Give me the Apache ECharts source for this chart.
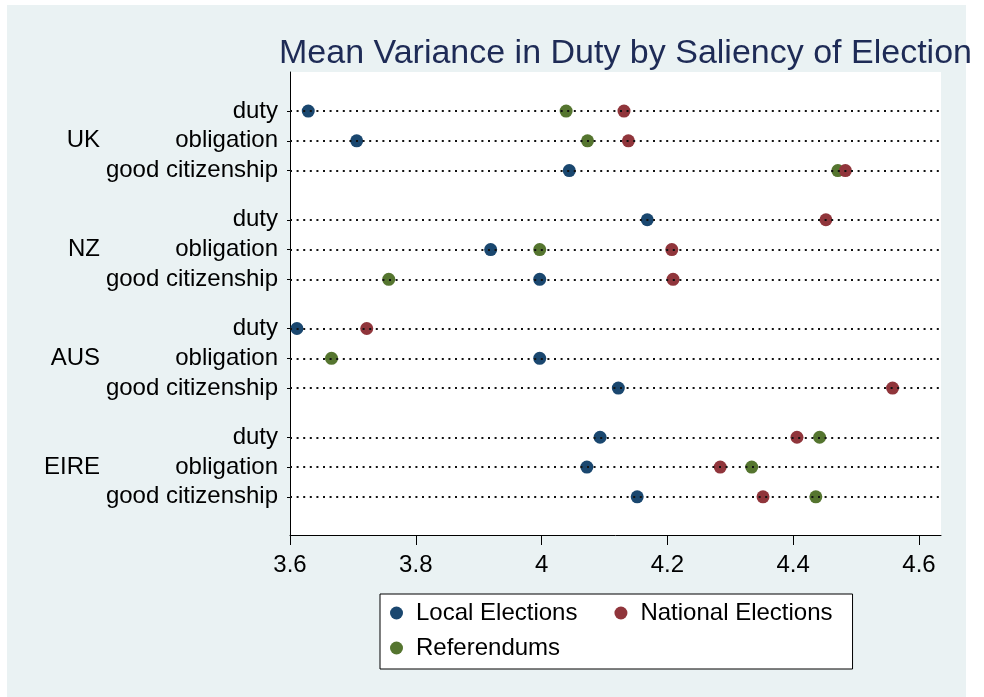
<!DOCTYPE html>
<html>
<head>
<meta charset="utf-8">
<script src="https://cdn.jsdelivr.net/npm/echarts@6/dist/echarts.min.js"></script>
<style>
  html, body { margin: 0; padding: 0; background: #ffffff; }
  #wrap { position: relative; width: 984px; height: 697px; overflow: hidden; }
  #panel { position: absolute; left: 7px; top: 5px; width: 959px; height: 692px; background: #EAF2F3; }
  #chart { position: absolute; left: 0; top: 0; width: 984px; height: 697px; }
</style>
</head>
<body>
<div id="wrap">
  <div id="panel"></div>
  <div id="chart"></div>
</div>
<script>
// Countries and the three items asked about in each
const countries = ['UK', 'NZ', 'AUS', 'EIRE'];
const items = ['duty', 'obligation', 'good citizenship'];

// Mean scores, one value per country/item row (UK duty ... EIRE good citizenship); null = not shown
const localElections = [3.629, 3.706, 4.044, 4.168, 3.919, 3.997, 3.611, 3.997, 4.122, 4.093, 4.072, 4.152];
const nationalElections = [4.131, 4.138, 4.483, 4.452, 4.207, 4.209, 3.722, null, 4.558, 4.406, 4.284, 4.352];
const referendums = [4.039, 4.073, 4.471, null, 3.997, 3.757, null, 3.666, null, 4.442, 4.334, 4.436];

// Horizontal axis tick labels
const xTicks = [3.6, 3.8, 4.0, 4.2, 4.4, 4.6];

const FONT = 'Liberation Sans, Arial, Helvetica, sans-serif';
const FS = 24;
const GROUP_STEP = 3.65; // rows per country block, including the gap between blocks

// Row position on the vertical value axis for every country/item pair
const rowPos = [];
const rowLabel = [];
countries.forEach((c, g) => {
  items.forEach((it, i) => {
    rowPos.push(+(g * GROUP_STEP + i).toFixed(2));
    rowLabel.push(it);
  });
});
const groupPos = countries.map((c, g) => +(g * GROUP_STEP + 1).toFixed(2));

const toPoints = vals => vals.map((v, k) => v == null ? null : [v, rowPos[k]]).filter(p => p);

const Y_MIN = -1.31, Y_MAX = 14.23;

const chart = echarts.init(document.getElementById('chart'), null, { renderer: 'canvas' });

const markerStyle = (color, name, vals) => ({
  name: name,
  type: 'scatter',
  symbol: 'circle',
  symbolSize: 13,
  itemStyle: { color: color, opacity: 1 },
  data: toPoints(vals),
  emphasis: { disabled: true }
});

const legendText = { color: '#000', fontSize: FS, fontFamily: FONT, padding: [0, 0, 0, 8] };

chart.setOption({
  backgroundColor: 'transparent',
  animation: false,
  textStyle: { fontFamily: FONT },
  title: {
    text: 'Mean Variance in Duty by Saliency of Election',
    left: 274,
    top: 32,
    textStyle: { color: '#1E2B56', fontSize: 34, fontWeight: 'normal', fontFamily: FONT }
  },
  grid: {
    left: 290, right: 43, top: 72, bottom: 162,
    show: true, backgroundColor: '#ffffff', borderWidth: 0
  },
  legend: [
    {
      data: ['Local Elections', 'National Elections'],
      left: 380, top: 594,
      orient: 'horizontal',
      icon: 'circle',
      itemWidth: 13, itemHeight: 13,
      itemGap: 37,
      padding: [7, 20, 44, 10],
      backgroundColor: '#ffffff',
      borderColor: '#000000', borderWidth: 1, borderRadius: 0,
      textStyle: legendText,
      selectedMode: false
    },
    {
      data: ['Referendums'],
      left: 380, top: 629,
      orient: 'horizontal',
      icon: 'circle',
      itemWidth: 13, itemHeight: 13,
      padding: [7, 10, 8, 10],
      textStyle: legendText,
      selectedMode: false
    }
  ],
  xAxis: {
    type: 'value',
    min: 3.6, max: 4.635,
    axisLine: { show: true, onZero: false, lineStyle: { color: '#000', width: 1 } },
    axisTick: { show: true, length: 10, customValues: xTicks, lineStyle: { color: '#000' } },
    axisLabel: { customValues: xTicks, margin: 18, color: '#000', fontSize: FS, fontFamily: FONT },
    splitLine: { show: false }
  },
  yAxis: [
    {
      type: 'value',
      inverse: true,
      min: Y_MIN, max: Y_MAX,
      axisLine: { show: true, onZero: false, lineStyle: { color: '#000', width: 1 } },
      axisTick: { show: true, length: 3, customValues: rowPos, lineStyle: { color: '#000' } },
      axisLabel: {
        customValues: rowPos,
        formatter: (v) => rowLabel[rowPos.indexOf(+(+v).toFixed(2))] || '',
        margin: 12, color: '#000', fontSize: FS, fontFamily: FONT
      },
      splitLine: { show: false }
    },
    {
      type: 'value',
      inverse: true,
      position: 'left',
      min: Y_MIN, max: Y_MAX,
      axisLine: { show: false },
      axisTick: { show: false },
      axisLabel: {
        customValues: groupPos,
        formatter: (v) => countries[groupPos.indexOf(+(+v).toFixed(2))] || '',
        margin: 190, color: '#000', fontSize: FS, fontFamily: FONT
      },
      splitLine: { show: false }
    }
  ],
  series: [
    {
      // dotted guide line behind every row
      name: 'rows',
      type: 'scatter',
      data: [],
      silent: true,
      markLine: {
        silent: true,
        symbol: ['none', 'none'],
        label: { show: false },
        lineStyle: { color: '#111', width: 2, type: [2, 4.6], opacity: 1 },
        emphasis: { disabled: true },
        data: rowPos.map(p => ({ yAxis: p }))
      }
    },
    markerStyle('#1A476F', 'Local Elections', localElections),
    markerStyle('#55752F', 'Referendums', referendums),
    markerStyle('#90353B', 'National Elections', nationalElections)
  ]
});
</script>
</body>
</html>
